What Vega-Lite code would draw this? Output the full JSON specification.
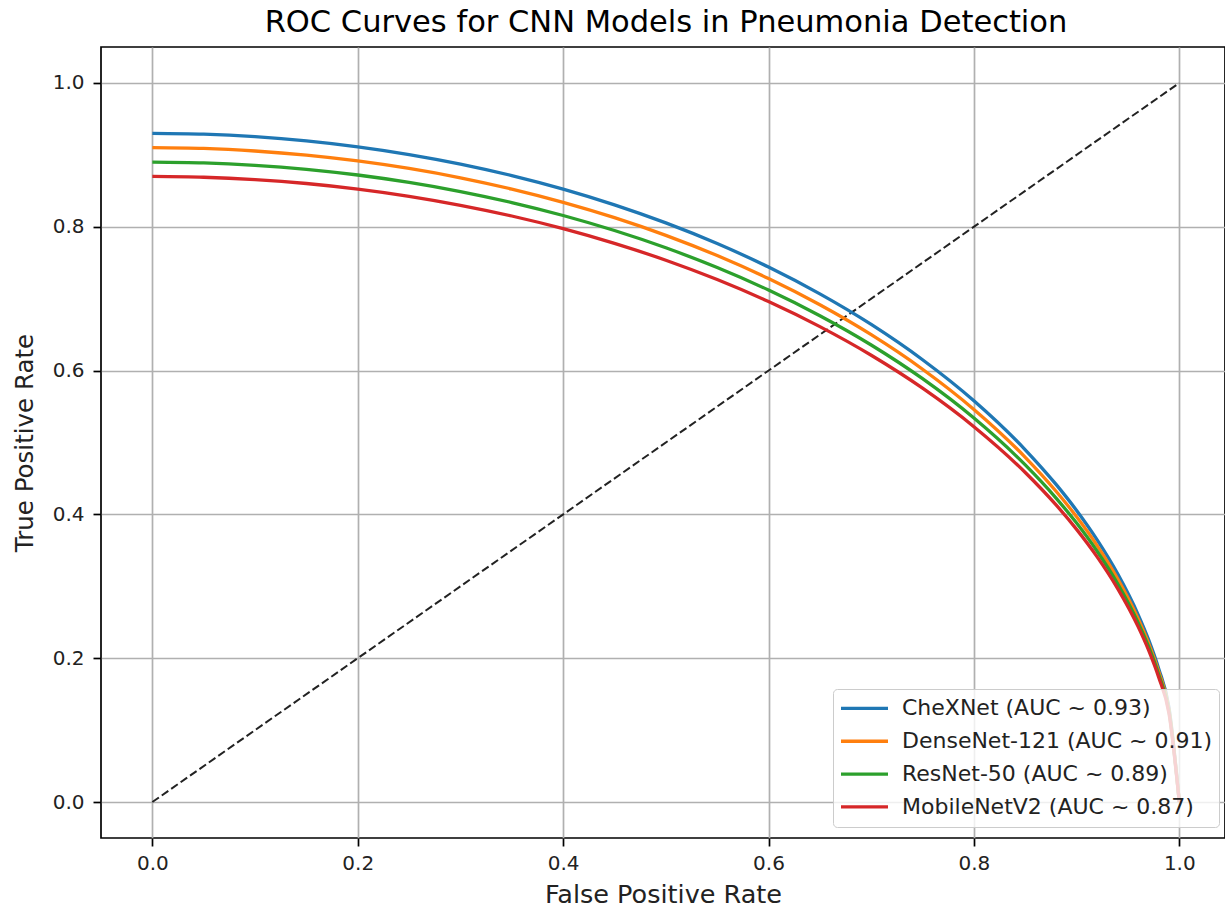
{
  "$schema": "https://vega.github.io/schema/vega-lite/v6.json",
  "autosize": {"type": "none"},
  "padding": {"left": 101, "top": 47, "right": 0, "bottom": 71},
  "width": 1124,
  "height": 791,
  "background": "white",
  "title": {
    "text": "ROC Curves for CNN Models in Pneumonia Detection",
    "font": "DejaVu Sans",
    "fontSize": 30.5,
    "fontWeight": "normal",
    "color": "black",
    "anchor": "middle",
    "frame": "group",
    "offset": 9,
    "dx": 3
  },
  "datasets": {
    "roc": [
      {"model": "CheXNet (AUC ~ 0.93)", "fpr": 0, "tpr": 0.93},
      {"model": "CheXNet (AUC ~ 0.93)", "fpr": 0.05, "tpr": 0.9288},
      {"model": "CheXNet (AUC ~ 0.93)", "fpr": 0.1, "tpr": 0.9253},
      {"model": "CheXNet (AUC ~ 0.93)", "fpr": 0.15, "tpr": 0.9195},
      {"model": "CheXNet (AUC ~ 0.93)", "fpr": 0.2, "tpr": 0.9112},
      {"model": "CheXNet (AUC ~ 0.93)", "fpr": 0.25, "tpr": 0.9005},
      {"model": "CheXNet (AUC ~ 0.93)", "fpr": 0.3, "tpr": 0.8872},
      {"model": "CheXNet (AUC ~ 0.93)", "fpr": 0.35, "tpr": 0.8712},
      {"model": "CheXNet (AUC ~ 0.93)", "fpr": 0.4, "tpr": 0.8524},
      {"model": "CheXNet (AUC ~ 0.93)", "fpr": 0.45, "tpr": 0.8305},
      {"model": "CheXNet (AUC ~ 0.93)", "fpr": 0.5, "tpr": 0.8054},
      {"model": "CheXNet (AUC ~ 0.93)", "fpr": 0.55, "tpr": 0.7767},
      {"model": "CheXNet (AUC ~ 0.93)", "fpr": 0.6, "tpr": 0.744},
      {"model": "CheXNet (AUC ~ 0.93)", "fpr": 0.65, "tpr": 0.7067},
      {"model": "CheXNet (AUC ~ 0.93)", "fpr": 0.7, "tpr": 0.6642},
      {"model": "CheXNet (AUC ~ 0.93)", "fpr": 0.75, "tpr": 0.6151},
      {"model": "CheXNet (AUC ~ 0.93)", "fpr": 0.8, "tpr": 0.558},
      {"model": "CheXNet (AUC ~ 0.93)", "fpr": 0.85, "tpr": 0.4899},
      {"model": "CheXNet (AUC ~ 0.93)", "fpr": 0.88, "tpr": 0.4417},
      {"model": "CheXNet (AUC ~ 0.93)", "fpr": 0.9, "tpr": 0.4054},
      {"model": "CheXNet (AUC ~ 0.93)", "fpr": 0.92, "tpr": 0.3645},
      {"model": "CheXNet (AUC ~ 0.93)", "fpr": 0.94, "tpr": 0.3173},
      {"model": "CheXNet (AUC ~ 0.93)", "fpr": 0.96, "tpr": 0.2604},
      {"model": "CheXNet (AUC ~ 0.93)", "fpr": 0.97, "tpr": 0.2261},
      {"model": "CheXNet (AUC ~ 0.93)", "fpr": 0.98, "tpr": 0.1851},
      {"model": "CheXNet (AUC ~ 0.93)", "fpr": 0.99, "tpr": 0.1312},
      {"model": "CheXNet (AUC ~ 0.93)", "fpr": 1.0, "tpr": 0},
      {"model": "DenseNet-121 (AUC ~ 0.91)", "fpr": 0, "tpr": 0.91},
      {"model": "DenseNet-121 (AUC ~ 0.91)", "fpr": 0.05, "tpr": 0.9089},
      {"model": "DenseNet-121 (AUC ~ 0.91)", "fpr": 0.1, "tpr": 0.9054},
      {"model": "DenseNet-121 (AUC ~ 0.91)", "fpr": 0.15, "tpr": 0.8997},
      {"model": "DenseNet-121 (AUC ~ 0.91)", "fpr": 0.2, "tpr": 0.8916},
      {"model": "DenseNet-121 (AUC ~ 0.91)", "fpr": 0.25, "tpr": 0.8811},
      {"model": "DenseNet-121 (AUC ~ 0.91)", "fpr": 0.3, "tpr": 0.8681},
      {"model": "DenseNet-121 (AUC ~ 0.91)", "fpr": 0.35, "tpr": 0.8524},
      {"model": "DenseNet-121 (AUC ~ 0.91)", "fpr": 0.4, "tpr": 0.834},
      {"model": "DenseNet-121 (AUC ~ 0.91)", "fpr": 0.45, "tpr": 0.8127},
      {"model": "DenseNet-121 (AUC ~ 0.91)", "fpr": 0.5, "tpr": 0.7881},
      {"model": "DenseNet-121 (AUC ~ 0.91)", "fpr": 0.55, "tpr": 0.76},
      {"model": "DenseNet-121 (AUC ~ 0.91)", "fpr": 0.6, "tpr": 0.728},
      {"model": "DenseNet-121 (AUC ~ 0.91)", "fpr": 0.65, "tpr": 0.6915},
      {"model": "DenseNet-121 (AUC ~ 0.91)", "fpr": 0.7, "tpr": 0.6499},
      {"model": "DenseNet-121 (AUC ~ 0.91)", "fpr": 0.75, "tpr": 0.6019},
      {"model": "DenseNet-121 (AUC ~ 0.91)", "fpr": 0.8, "tpr": 0.546},
      {"model": "DenseNet-121 (AUC ~ 0.91)", "fpr": 0.85, "tpr": 0.4794},
      {"model": "DenseNet-121 (AUC ~ 0.91)", "fpr": 0.88, "tpr": 0.4322},
      {"model": "DenseNet-121 (AUC ~ 0.91)", "fpr": 0.9, "tpr": 0.3967},
      {"model": "DenseNet-121 (AUC ~ 0.91)", "fpr": 0.92, "tpr": 0.3567},
      {"model": "DenseNet-121 (AUC ~ 0.91)", "fpr": 0.94, "tpr": 0.3105},
      {"model": "DenseNet-121 (AUC ~ 0.91)", "fpr": 0.96, "tpr": 0.2548},
      {"model": "DenseNet-121 (AUC ~ 0.91)", "fpr": 0.97, "tpr": 0.2212},
      {"model": "DenseNet-121 (AUC ~ 0.91)", "fpr": 0.98, "tpr": 0.1811},
      {"model": "DenseNet-121 (AUC ~ 0.91)", "fpr": 0.99, "tpr": 0.1284},
      {"model": "DenseNet-121 (AUC ~ 0.91)", "fpr": 1.0, "tpr": 0},
      {"model": "ResNet-50 (AUC ~ 0.89)", "fpr": 0, "tpr": 0.89},
      {"model": "ResNet-50 (AUC ~ 0.89)", "fpr": 0.05, "tpr": 0.8889},
      {"model": "ResNet-50 (AUC ~ 0.89)", "fpr": 0.1, "tpr": 0.8855},
      {"model": "ResNet-50 (AUC ~ 0.89)", "fpr": 0.15, "tpr": 0.8799},
      {"model": "ResNet-50 (AUC ~ 0.89)", "fpr": 0.2, "tpr": 0.872},
      {"model": "ResNet-50 (AUC ~ 0.89)", "fpr": 0.25, "tpr": 0.8617},
      {"model": "ResNet-50 (AUC ~ 0.89)", "fpr": 0.3, "tpr": 0.849},
      {"model": "ResNet-50 (AUC ~ 0.89)", "fpr": 0.35, "tpr": 0.8337},
      {"model": "ResNet-50 (AUC ~ 0.89)", "fpr": 0.4, "tpr": 0.8157},
      {"model": "ResNet-50 (AUC ~ 0.89)", "fpr": 0.45, "tpr": 0.7948},
      {"model": "ResNet-50 (AUC ~ 0.89)", "fpr": 0.5, "tpr": 0.7708},
      {"model": "ResNet-50 (AUC ~ 0.89)", "fpr": 0.55, "tpr": 0.7433},
      {"model": "ResNet-50 (AUC ~ 0.89)", "fpr": 0.6, "tpr": 0.712},
      {"model": "ResNet-50 (AUC ~ 0.89)", "fpr": 0.65, "tpr": 0.6763},
      {"model": "ResNet-50 (AUC ~ 0.89)", "fpr": 0.7, "tpr": 0.6356},
      {"model": "ResNet-50 (AUC ~ 0.89)", "fpr": 0.75, "tpr": 0.5887},
      {"model": "ResNet-50 (AUC ~ 0.89)", "fpr": 0.8, "tpr": 0.534},
      {"model": "ResNet-50 (AUC ~ 0.89)", "fpr": 0.85, "tpr": 0.4688},
      {"model": "ResNet-50 (AUC ~ 0.89)", "fpr": 0.88, "tpr": 0.4227},
      {"model": "ResNet-50 (AUC ~ 0.89)", "fpr": 0.9, "tpr": 0.3879},
      {"model": "ResNet-50 (AUC ~ 0.89)", "fpr": 0.92, "tpr": 0.3488},
      {"model": "ResNet-50 (AUC ~ 0.89)", "fpr": 0.94, "tpr": 0.3036},
      {"model": "ResNet-50 (AUC ~ 0.89)", "fpr": 0.96, "tpr": 0.2492},
      {"model": "ResNet-50 (AUC ~ 0.89)", "fpr": 0.97, "tpr": 0.2164},
      {"model": "ResNet-50 (AUC ~ 0.89)", "fpr": 0.98, "tpr": 0.1771},
      {"model": "ResNet-50 (AUC ~ 0.89)", "fpr": 0.99, "tpr": 0.1256},
      {"model": "ResNet-50 (AUC ~ 0.89)", "fpr": 1.0, "tpr": 0},
      {"model": "MobileNetV2 (AUC ~ 0.87)", "fpr": 0, "tpr": 0.87},
      {"model": "MobileNetV2 (AUC ~ 0.87)", "fpr": 0.05, "tpr": 0.8689},
      {"model": "MobileNetV2 (AUC ~ 0.87)", "fpr": 0.1, "tpr": 0.8656},
      {"model": "MobileNetV2 (AUC ~ 0.87)", "fpr": 0.15, "tpr": 0.8602},
      {"model": "MobileNetV2 (AUC ~ 0.87)", "fpr": 0.2, "tpr": 0.8524},
      {"model": "MobileNetV2 (AUC ~ 0.87)", "fpr": 0.25, "tpr": 0.8424},
      {"model": "MobileNetV2 (AUC ~ 0.87)", "fpr": 0.3, "tpr": 0.8299},
      {"model": "MobileNetV2 (AUC ~ 0.87)", "fpr": 0.35, "tpr": 0.815},
      {"model": "MobileNetV2 (AUC ~ 0.87)", "fpr": 0.4, "tpr": 0.7974},
      {"model": "MobileNetV2 (AUC ~ 0.87)", "fpr": 0.45, "tpr": 0.7769},
      {"model": "MobileNetV2 (AUC ~ 0.87)", "fpr": 0.5, "tpr": 0.7535},
      {"model": "MobileNetV2 (AUC ~ 0.87)", "fpr": 0.55, "tpr": 0.7266},
      {"model": "MobileNetV2 (AUC ~ 0.87)", "fpr": 0.6, "tpr": 0.696},
      {"model": "MobileNetV2 (AUC ~ 0.87)", "fpr": 0.65, "tpr": 0.6611},
      {"model": "MobileNetV2 (AUC ~ 0.87)", "fpr": 0.7, "tpr": 0.6213},
      {"model": "MobileNetV2 (AUC ~ 0.87)", "fpr": 0.75, "tpr": 0.5755},
      {"model": "MobileNetV2 (AUC ~ 0.87)", "fpr": 0.8, "tpr": 0.522},
      {"model": "MobileNetV2 (AUC ~ 0.87)", "fpr": 0.85, "tpr": 0.4583},
      {"model": "MobileNetV2 (AUC ~ 0.87)", "fpr": 0.88, "tpr": 0.4132},
      {"model": "MobileNetV2 (AUC ~ 0.87)", "fpr": 0.9, "tpr": 0.3792},
      {"model": "MobileNetV2 (AUC ~ 0.87)", "fpr": 0.92, "tpr": 0.341},
      {"model": "MobileNetV2 (AUC ~ 0.87)", "fpr": 0.94, "tpr": 0.2968},
      {"model": "MobileNetV2 (AUC ~ 0.87)", "fpr": 0.96, "tpr": 0.2436},
      {"model": "MobileNetV2 (AUC ~ 0.87)", "fpr": 0.97, "tpr": 0.2115},
      {"model": "MobileNetV2 (AUC ~ 0.87)", "fpr": 0.98, "tpr": 0.1731},
      {"model": "MobileNetV2 (AUC ~ 0.87)", "fpr": 0.99, "tpr": 0.1227},
      {"model": "MobileNetV2 (AUC ~ 0.87)", "fpr": 1.0, "tpr": 0}
    ],
    "diag": [
      {"fpr": 0, "tpr": 0},
      {"fpr": 1, "tpr": 1}
    ]
  },
  "layer": [
    {
      "data": {"name": "diag"},
      "mark": {"type": "line", "color": "#222222", "strokeWidth": 2, "strokeDash": [8, 3.5]},
      "encoding": {
        "x": {"field": "fpr", "type": "quantitative"},
        "y": {"field": "tpr", "type": "quantitative"}
      }
    },
    {
      "data": {"name": "roc"},
      "mark": {"type": "line", "strokeWidth": 3.3, "interpolate": "monotone"},
      "encoding": {
        "x": {
          "field": "fpr",
          "type": "quantitative",
          "title": "False Positive Rate",
          "scale": {"domain": [-0.05, 1.0445], "nice": false, "zero": false},
          "axis": {"values": [0, 0.2, 0.4, 0.6, 0.8, 1.0], "format": ".1f", "labelPadding": 7, "titlePadding": 9, "titleFontSize": 25.5}
        },
        "y": {
          "field": "tpr",
          "type": "quantitative",
          "title": "True Positive Rate",
          "scale": {"domain": [-0.05, 1.05], "nice": false, "zero": false},
          "axis": {"values": [0, 0.2, 0.4, 0.6, 0.8, 1.0], "format": ".1f", "labelPadding": 9, "titlePadding": 15, "titleFontSize": 24.5}
        },
        "color": {
          "field": "model",
          "type": "nominal",
          "sort": ["CheXNet (AUC ~ 0.93)", "DenseNet-121 (AUC ~ 0.91)", "ResNet-50 (AUC ~ 0.89)", "MobileNetV2 (AUC ~ 0.87)"],
          "scale": {
            "domain": ["CheXNet (AUC ~ 0.93)", "DenseNet-121 (AUC ~ 0.91)", "ResNet-50 (AUC ~ 0.89)", "MobileNetV2 (AUC ~ 0.87)"],
            "range": ["#1f77b4", "#ff7f0e", "#2ca02c", "#d62728"]
          },
          "legend": {
            "title": null,
            "orient": "none",
            "legendX": 732,
            "legendY": 642,
            "symbolType": "stroke",
            "symbolSize": 2209,
            "symbolStrokeWidth": 3.3,
            "clipHeight": 26.9,
            "rowPadding": 5.8,
            "labelOffset": 12,
            "labelFont": "DejaVu Sans",
            "labelFontSize": 22,
            "labelColor": "#222222",
            "labelLimit": 400,
            "padding": 6,
            "fillColor": "rgba(255,255,255,0.8)",
            "strokeColor": "#cccccc",
            "cornerRadius": 4
          }
        }
      }
    }
  ],
  "config": {
    "view": {"stroke": "black", "strokeWidth": 1.7},
    "axis": {
      "domain": false,
      "grid": true,
      "gridColor": "#b0b0b0",
      "gridWidth": 1.7,
      "ticks": true,
      "tickColor": "black",
      "tickWidth": 1.7,
      "tickSize": 8,
      "labelFont": "DejaVu Sans",
      "labelFontSize": 20,
      "labelColor": "#222222",
      "labelFlush": false,
      "labelOverlap": false,
      "titleFont": "DejaVu Sans",
      "titleFontSize": 24,
      "titleFontWeight": "normal",
      "titleColor": "#222222"
    }
  }
}
